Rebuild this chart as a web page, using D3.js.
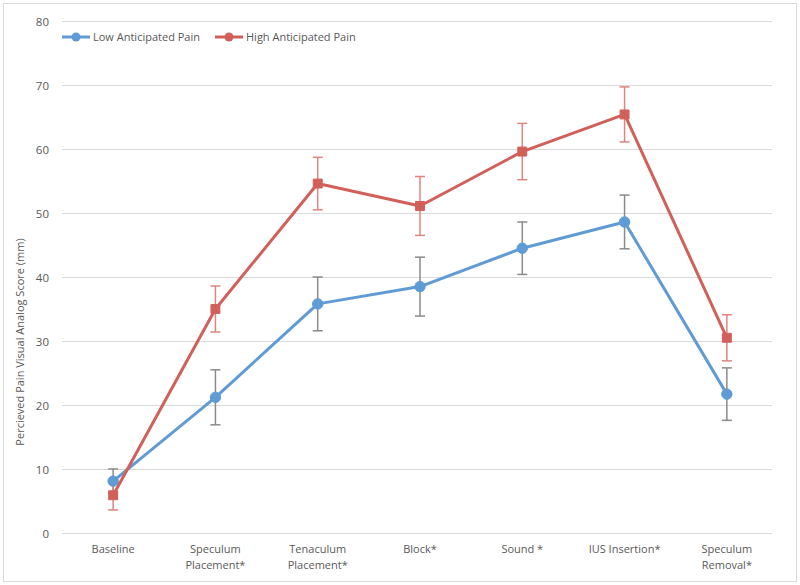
<!DOCTYPE html>
<html>
<head>
<meta charset="utf-8">
<script src="https://cdn.jsdelivr.net/npm/d3@7"></script>
<style>
  html, body { margin: 0; padding: 0; background: #fff; }
  svg { display: block; }
  text { font-family: "Open Sans", "Liberation Sans", sans-serif; fill: #595959; }
</style>
</head>
<body>
<svg id="chart" width="800" height="585"></svg>
<script>
const categories = ["Baseline", "Speculum\nPlacement*", "Tenaculum\nPlacement*", "Block*", "Sound *", "IUS Insertion*", "Speculum\nRemoval*"];
const lowMean  = [8.1, 21.2, 35.8, 38.5, 44.5, 48.6, 21.7];
const lowErr   = [1.9, 4.3, 4.2, 4.6, 4.1, 4.2, 4.1];
const highMean = [5.9, 35.0, 54.6, 51.1, 59.6, 65.4, 30.5];
const highErr  = [2.3, 3.6, 4.1, 4.6, 4.4, 4.3, 3.6];
const yTicks   = [0, 10, 20, 30, 40, 50, 60, 70, 80];
const seriesNames = ["Low Anticipated Pain", "High Anticipated Pain"];

const svg = d3.select("#chart");
const W = 800, H = 585;

// outer border
svg.append("rect").attr("x", 3.5).attr("y", 3.5).attr("width", W - 7).attr("height", H - 7)
  .attr("fill", "#fff").attr("stroke", "#d9d9d9").attr("stroke-width", 1);

const pLeft = 62, pRight = 778, pTop = 21, pBottom = 533;

const x = d3.scaleBand().domain(categories).range([pLeft, pRight]);
const y = d3.scaleLinear().domain([0, 80]).range([pBottom, pTop]);

// gridlines
const grid = svg.append("g");
grid.selectAll("line").data(yTicks).join("line")
  .attr("x1", pLeft).attr("x2", pRight - 6)
  .attr("y1", d => Math.round(y(d)) + 0.5).attr("y2", d => Math.round(y(d)) + 0.5)
  .attr("stroke", "#d9d9d9").attr("stroke-width", 1);

// y axis labels
const yAxis = d3.axisLeft(y).tickValues(yTicks).tickSize(0).tickPadding(0);
const yg = svg.append("g").attr("transform", `translate(${pLeft - 13},0)`).call(yAxis);
yg.select(".domain").remove();
yg.selectAll("text").attr("font-size", 11.5).attr("fill", "#595959")
  .style("font-family", "'Open Sans', sans-serif").attr("dy", "0.35em");

// x axis labels (multiline)
const xg = svg.append("g");
categories.forEach(c => {
  const lines = c.split("\n");
  const t = xg.append("text").attr("x", x(c) + x.bandwidth() / 2).attr("y", 553)
    .attr("text-anchor", "middle").attr("font-size", 11);
  lines.forEach((ln, i) => {
    t.append("tspan").attr("x", x(c) + x.bandwidth() / 2).attr("dy", i === 0 ? 0 : 16).text(ln);
  });
});

// y axis title
svg.append("text")
  .attr("transform", `translate(24,342) rotate(-90)`)
  .attr("text-anchor", "middle").attr("font-size", 11)
  .text("Percieved Pain Visual Analog Score (mm)");

const cx = c => x(c) + x.bandwidth() / 2;

const series = [
  { name: seriesNames[0], mean: lowMean, err: lowErr, color: "#5f9bd4", errColor: "#8a8a8a", marker: "circle" },
  { name: seriesNames[1], mean: highMean, err: highErr, color: "#d2605a", errColor: "#e0847e", marker: "square" }
];

const line = d3.line().x(d => cx(d.c)).y(d => y(d.v));

// error bars
series.forEach(s => {
  const g = svg.append("g");
  const data = categories.map((c, i) => ({ c, v: s.mean[i], e: s.err[i] }));
  g.selectAll("line.v").data(data).join("line")
    .attr("x1", d => cx(d.c)).attr("x2", d => cx(d.c))
    .attr("y1", d => y(d.v - d.e)).attr("y2", d => y(d.v + d.e))
    .attr("stroke", s.errColor).attr("stroke-width", 1.5);
  ["lo", "hi"].forEach(k => {
    g.selectAll("line." + k).data(data).join("line").attr("class", k)
      .attr("x1", d => cx(d.c) - 5).attr("x2", d => cx(d.c) + 5)
      .attr("y1", d => y(k === "lo" ? d.v - d.e : d.v + d.e))
      .attr("y2", d => y(k === "lo" ? d.v - d.e : d.v + d.e))
      .attr("stroke", s.errColor).attr("stroke-width", 1.5);
  });
});

// lines and markers
series.forEach(s => {
  const data = categories.map((c, i) => ({ c, v: s.mean[i] }));
  svg.append("path").datum(data).attr("d", line)
    .attr("fill", "none").attr("stroke", s.color).attr("stroke-width", 3)
    .attr("stroke-linejoin", "round");
  const sym = d3.symbol().type(s.marker === "circle" ? d3.symbolCircle : d3.symbolSquare).size(s.marker === "circle" ? 85 : 80);
  svg.append("g").selectAll("path").data(data).join("path")
    .attr("transform", d => `translate(${cx(d.c)},${y(d.v)})`)
    .attr("d", sym).attr("fill", s.color)
    .attr("stroke", s.color).attr("stroke-width", 1).attr("stroke-linejoin", "round");
});

// legend
const legend = svg.append("g");
const legendX = [62, 215];
series.forEach((s, i) => {
  const lx = legendX[i], ly = 37;
  legend.append("line").attr("x1", lx).attr("x2", lx + 28).attr("y1", ly).attr("y2", ly)
    .attr("stroke", s.color).attr("stroke-width", 3);
  legend.append("circle").attr("cx", lx + 14).attr("cy", ly).attr("r", 4.5).attr("fill", s.color);
  legend.append("text").attr("x", lx + 31).attr("y", ly).attr("dy", "0.35em")
    .attr("font-size", 11).text(s.name);
});
</script>
</body>
</html>
